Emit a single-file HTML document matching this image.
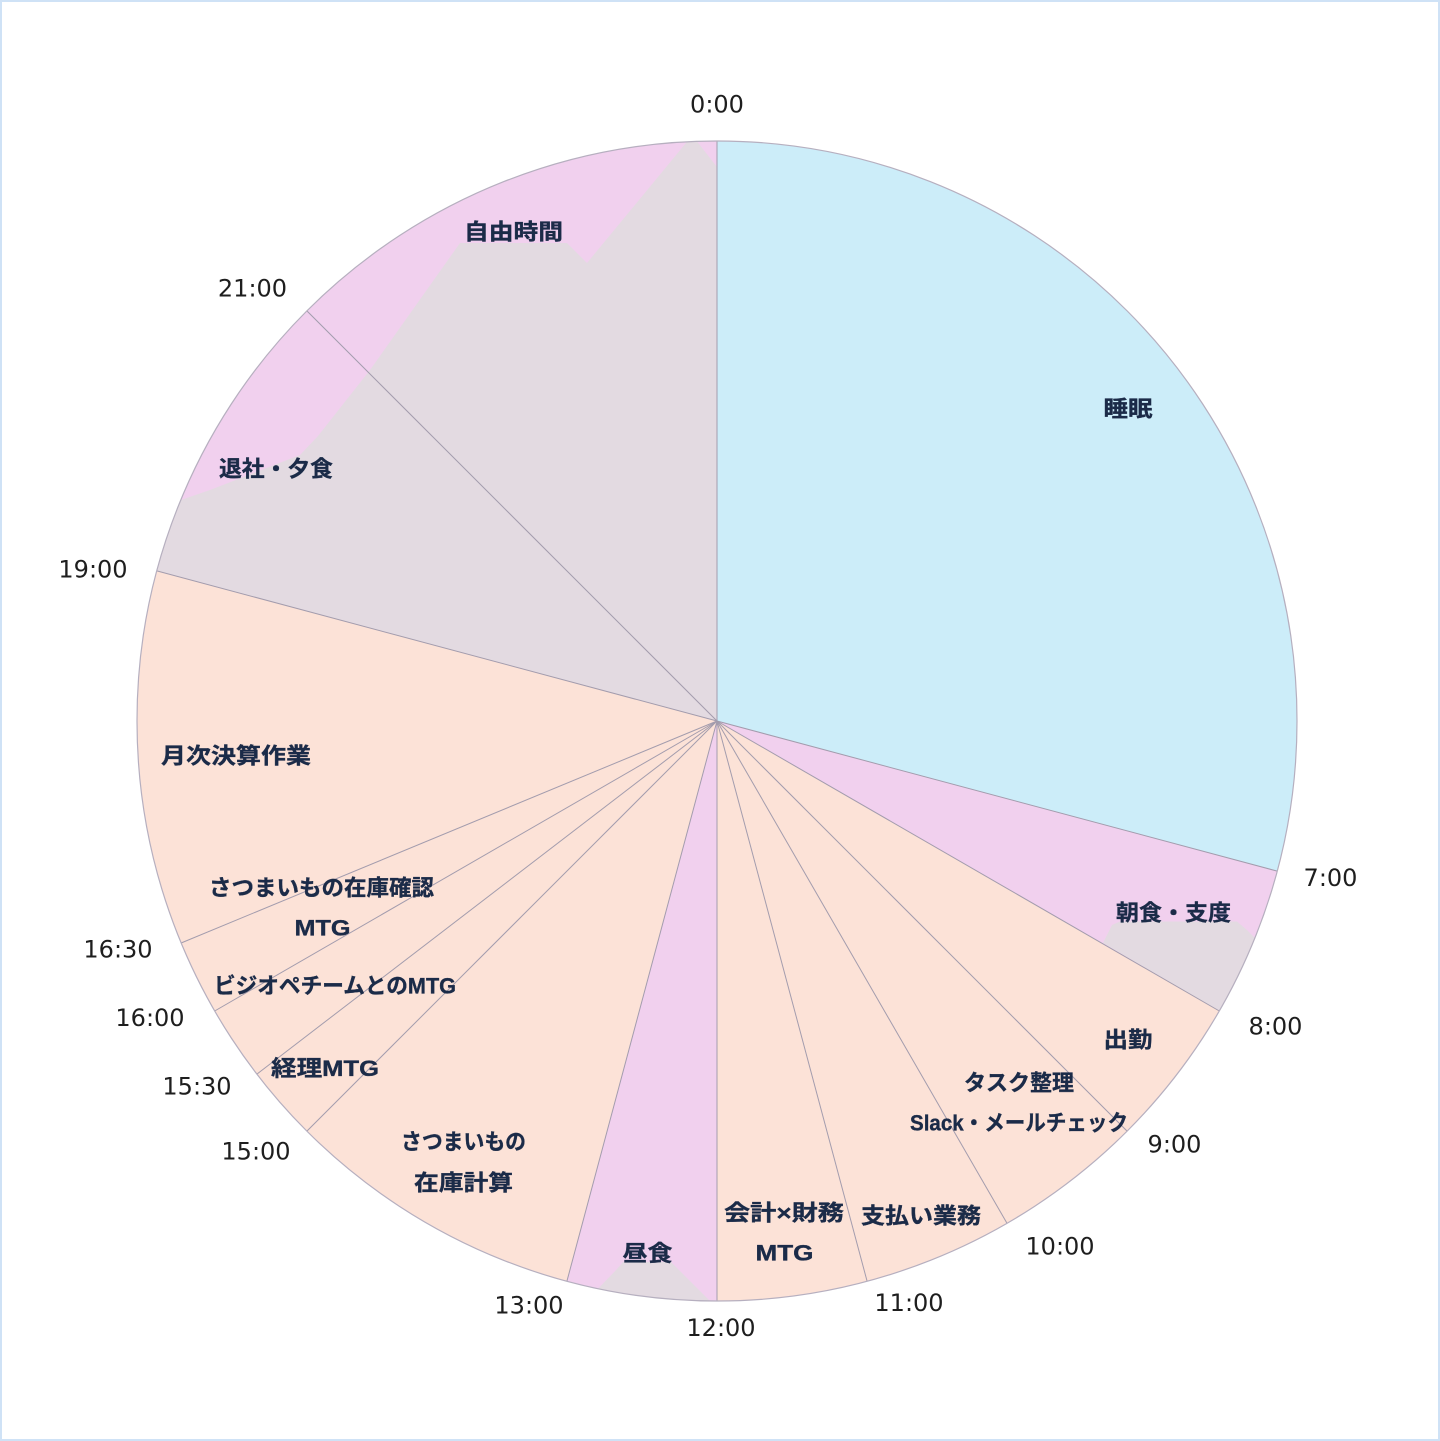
<!DOCTYPE html>
<html lang="ja">
<head>
<meta charset="utf-8">
<style>
  html, body { margin:0; padding:0; background:#ffffff; }
  .frame { position:relative; width:1440px; height:1441px; background:#ffffff; overflow:hidden; }
  svg { position:absolute; left:0; top:0; }
  .t { font-family:"DejaVu Sans","Liberation Sans",sans-serif; font-size:24px; fill:#1e1e1e; text-anchor:middle; }
  .l { font-family:"Liberation Sans","Noto Sans CJK JP",sans-serif; font-size:22px; font-weight:bold; fill:#1b2b48; stroke:#1b2b48; stroke-width:0.35; text-anchor:middle; }
</style>
</head>
<body>
<div class="frame">
<svg width="1440" height="1441" viewBox="0 0 1440 1441" xmlns="http://www.w3.org/2000/svg">
  <rect x="1" y="1" width="1438" height="1439" fill="#ffffff" stroke="#cfe2f6" stroke-width="2"/>
  <!-- slices -->
  <path d="M717,721 L717,141 A580,580 0 0 1 1277.2,871.1 Z" fill="#ccedf9"/>
  <path d="M717,721 L1277.2,871.1 A580,580 0 0 1 1219.3,1011 Z" fill="#f1d0ee"/>
  <path d="M717,721 L1219.3,1011 A580,580 0 0 1 717,1301 Z" fill="#fce2d7"/>
  <path d="M717,721 L717,1301 A580,580 0 0 1 566.9,1281.2 Z" fill="#f1d0ee"/>
  <path d="M717,721 L566.9,1281.2 A580,580 0 0 1 156.8,570.9 Z" fill="#fce2d7"/>
  <path d="M717,721 L156.8,570.9 A580,580 0 0 1 717,141 Z" fill="#f1d0ee"/>

  <!-- hatched overlays -->
  <path d="M717,721 L717,167 L697,141.4 L687,141.8 L587,263 L567,243 L460,243 L370,370 L318,436 L300,455 L210,490 L181,500 A580,580 0 0 0 156.8,570.9 Z" fill="#e3dae1"/>
  <path d="M1103,943 L1112,925 L1120,921.5 L1237,921.5 L1247,930 L1255,938 A580,580 0 0 1 1219.3,1011 Z" fill="#e3dae1"/>
  <path d="M598,1288.7 L617,1269 L623,1262 L671,1262 L710,1301 A580,580 0 0 1 598,1288.7 Z" fill="#e3dae1"/>

  <!-- slice separators -->
  <g stroke="#a39cad" stroke-width="1" fill="none">
    <line x1="717" y1="721" x2="717" y2="141"/>
    <line x1="717" y1="721" x2="1277.2" y2="871.1"/>
    <line x1="717" y1="721" x2="1219.3" y2="1011"/>
    <line x1="717" y1="721" x2="1127.1" y2="1131.1"/>
    <line x1="717" y1="721" x2="1007" y2="1223.3"/>
    <line x1="717" y1="721" x2="867.1" y2="1281.2"/>
    <line x1="717" y1="721" x2="717" y2="1301"/>
    <line x1="717" y1="721" x2="566.9" y2="1281.2"/>
    <line x1="717" y1="721" x2="306.9" y2="1131.1"/>
    <line x1="717" y1="721" x2="256.9" y2="1074.1"/>
    <line x1="717" y1="721" x2="214.7" y2="1011"/>
    <line x1="717" y1="721" x2="181.1" y2="943"/>
    <line x1="717" y1="721" x2="156.8" y2="570.9"/>
    <line x1="717" y1="721" x2="306.9" y2="310.9"/>
  </g>
  <circle cx="717" cy="721" r="580" fill="none" stroke="#b6afbf" stroke-width="1.2"/>

  <!-- time labels -->
  <text class="t" x="717" y="112.7">0:00</text>
  <text class="t" x="1330.5" y="886.2">7:00</text>
  <text class="t" x="1275.5" y="1034.7">8:00</text>
  <text class="t" x="1174.5" y="1152.7">9:00</text>
  <text class="t" x="1060" y="1254.7">10:00</text>
  <text class="t" x="909" y="1311.2">11:00</text>
  <text class="t" x="721" y="1336.2">12:00</text>
  <text class="t" x="529" y="1313.7">13:00</text>
  <text class="t" x="256" y="1159.7">15:00</text>
  <text class="t" x="197" y="1094.7">15:30</text>
  <text class="t" x="150" y="1026.2">16:00</text>
  <text class="t" x="118" y="957.7">16:30</text>
  <text class="t" x="93" y="577.7">19:00</text>
  <text class="t" x="252.5" y="296.7">21:00</text>

  <!-- category labels -->
  <text class="l" x="1128" y="416.4" textLength="49" lengthAdjust="spacingAndGlyphs">睡眠</text>
  <text class="l" x="1173.5" y="920.4" textLength="115" lengthAdjust="spacingAndGlyphs">朝食・支度</text>
  <text class="l" x="1128" y="1047.4" textLength="49" lengthAdjust="spacingAndGlyphs">出勤</text>
  <text class="l" x="1019" y="1090.4" textLength="110" lengthAdjust="spacingAndGlyphs">タスク整理</text>
  <text class="l" x="1019" y="1130.4" textLength="218" lengthAdjust="spacingAndGlyphs">Slack・メールチェック</text>
  <text class="l" x="921" y="1223.4" textLength="120" lengthAdjust="spacingAndGlyphs">支払い業務</text>
  <text class="l" x="784" y="1220.4" textLength="120" lengthAdjust="spacingAndGlyphs">会計×財務</text>
  <text class="l" x="784.5" y="1260.4" textLength="58" lengthAdjust="spacingAndGlyphs">MTG</text>
  <text class="l" x="647.5" y="1260.9" textLength="50" lengthAdjust="spacingAndGlyphs">昼食</text>
  <text class="l" x="463.5" y="1149.4" textLength="125" lengthAdjust="spacingAndGlyphs">さつまいもの</text>
  <text class="l" x="463.5" y="1190.4" textLength="99" lengthAdjust="spacingAndGlyphs">在庫計算</text>
  <text class="l" x="325" y="1075.9" textLength="108" lengthAdjust="spacingAndGlyphs">経理MTG</text>
  <text class="l" x="335" y="993.4" textLength="242" lengthAdjust="spacingAndGlyphs">ビジオペチームとのMTG</text>
  <text class="l" x="321.5" y="895.4" textLength="225" lengthAdjust="spacingAndGlyphs">さつまいもの在庫確認</text>
  <text class="l" x="322.5" y="935.4" textLength="56" lengthAdjust="spacingAndGlyphs">MTG</text>
  <text class="l" x="236" y="763.4" textLength="150" lengthAdjust="spacingAndGlyphs">月次決算作業</text>
  <text class="l" x="276" y="476.4" textLength="114" lengthAdjust="spacingAndGlyphs">退社・夕食</text>
  <text class="l" x="513.5" y="239.4" textLength="99" lengthAdjust="spacingAndGlyphs">自由時間</text>
</svg>
</div>
</body>
</html>
